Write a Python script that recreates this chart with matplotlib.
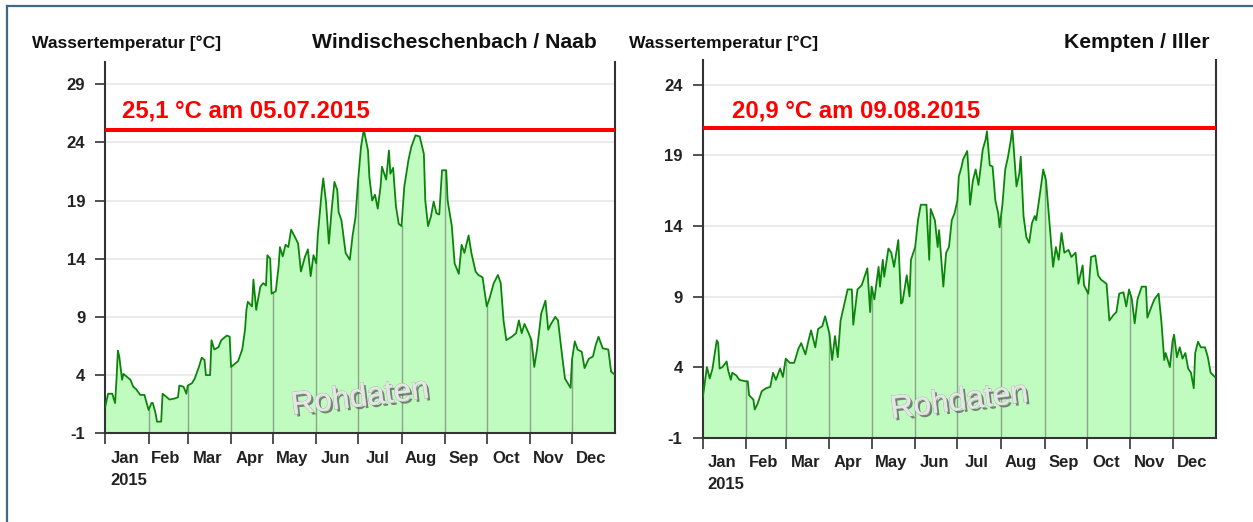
import matplotlib
matplotlib.use('Agg')
import matplotlib.pyplot as plt
import matplotlib.patheffects as pe
from matplotlib.lines import Line2D
import numpy as np

plt.rcParams['font.family'] = ['Liberation Sans', 'DejaVu Sans']

# data (day of year 2015, 0 = 1 Jan; water temperature in deg C)
naab_days = [0, 2, 5, 7, 8, 9, 10, 12, 13, 15, 18, 20, 22, 25, 28, 31, 33, 34, 36, 37,
             40, 41, 44, 46, 50, 52, 53, 56, 58, 59, 62, 64, 67, 69, 71, 72, 75, 76, 78, 81,
             83, 87, 89, 90, 93, 95, 98, 100, 101, 102, 105, 106, 108, 109, 111, 113, 115, 116, 118, 119,
             122, 124, 125, 127, 129, 131, 133, 136, 138, 140, 143, 145, 147, 149, 151, 152, 155, 156, 158, 160,
             162, 164, 166, 167, 169, 172, 175, 177, 179, 181, 183, 185, 188, 189, 191, 193, 195, 197, 198, 201,
             203, 204, 206, 208, 210, 212, 214, 217, 219, 222, 225, 228, 229, 231, 233, 235, 237, 239, 241, 244,
             245, 248, 250, 251, 253, 255, 257, 260, 262, 265, 267, 270, 273, 275, 278, 281, 283, 285, 287, 291,
             294, 296, 298, 300, 303, 305, 307, 309, 312, 315, 317, 319, 322, 324, 327, 329, 333, 334, 336, 338,
             341, 343, 346, 349, 351, 353, 356, 360, 362, 364]
naab_temp = [1.3, 2.4, 2.4, 1.6, 3.6, 6.1, 5.6, 3.6, 4.1, 3.9, 3.6, 3.0, 2.8, 2.3, 2.3, 1.0, 1.6, 1.6, 0.7, 0.0,
             0.0, 2.4, 2.1, 1.9, 2.0, 2.1, 3.1, 3.0, 2.4, 3.1, 3.3, 3.7, 4.7, 5.5, 5.3, 4.0, 4.0, 7.0, 6.2, 6.4,
             7.0, 7.4, 7.3, 4.7, 5.0, 5.2, 6.2, 7.9, 9.6, 10.3, 9.9, 12.2, 9.6, 10.3, 11.6, 11.9, 11.7, 14.3, 14.0, 11.0,
             11.2, 13.3, 15.0, 14.2, 15.2, 15.0, 16.5, 15.8, 15.3, 12.9, 14.2, 14.8, 12.5, 14.3, 13.6, 15.9, 19.9, 20.9, 18.8, 15.3,
             18.2, 20.6, 19.9, 18.0, 17.3, 14.5, 13.9, 16.0, 17.5, 20.8, 23.6, 25.1, 23.3, 21.0, 19.0, 19.5, 18.3, 20.2, 21.9, 20.8,
             23.3, 21.3, 21.8, 18.5, 17.0, 16.8, 20.2, 22.5, 23.6, 24.6, 24.5, 23.0, 19.0, 16.8, 17.6, 18.9, 17.9, 17.8, 21.6, 21.6,
             19.0, 16.8, 13.6, 13.3, 12.7, 15.2, 14.5, 16.0, 14.5, 12.9, 12.6, 12.4, 9.9, 10.6, 11.9, 12.6, 11.9, 8.7, 7.0, 7.3,
             7.6, 8.7, 7.6, 8.4, 7.6, 7.0, 4.7, 6.2, 9.3, 10.4, 7.9, 8.4, 9.0, 8.7, 5.6, 3.7, 2.9, 5.3, 6.9, 6.2,
             6.0, 4.6, 5.4, 5.6, 6.6, 7.3, 6.3, 6.2, 4.3, 4.1]

iller_days = [0, 2, 3, 5, 7, 8, 10, 11, 12, 14, 17, 18, 20, 21, 24, 26, 30, 32, 33, 36,
              37, 39, 42, 45, 48, 50, 52, 55, 57, 59, 62, 65, 68, 70, 73, 75, 77, 80, 82, 85,
              87, 90, 92, 94, 96, 98, 101, 103, 106, 107, 110, 113, 115, 117, 119, 120, 122, 125, 126, 128,
              129, 132, 134, 136, 139, 141, 142, 145, 147, 148, 151, 153, 155, 159, 161, 162, 165, 167, 168, 171,
              173, 175, 177, 179, 181, 182, 184, 185, 188, 189, 190, 192, 194, 196, 197, 199, 201, 202, 204, 206,
              208, 210, 211, 213, 215, 217, 219, 220, 223, 225, 226, 228, 230, 232, 234, 236, 237, 240, 242, 244,
              247, 249, 251, 253, 255, 257, 260, 262, 265, 267, 270, 271, 274, 276, 279, 281, 283, 287, 289, 292,
              294, 296, 299, 301, 303, 305, 307, 309, 312, 315, 316, 319, 321, 324, 326, 328, 329, 332, 334, 335,
              337, 339, 341, 343, 345, 347, 349, 350, 352, 354, 357, 359, 361, 364]
iller_temp = [1.8, 3.3, 4.0, 3.2, 3.9, 4.6, 5.9, 5.7, 3.9, 4.0, 4.4, 3.8, 3.1, 3.6, 3.4, 3.1, 3.0, 3.0, 2.0, 1.7,
              1.0, 1.4, 2.3, 2.5, 2.6, 3.6, 3.1, 3.9, 3.3, 4.6, 4.3, 4.3, 5.3, 5.7, 4.9, 5.8, 6.6, 5.4, 6.7, 6.9,
              7.6, 6.4, 4.5, 6.2, 4.7, 7.3, 8.6, 9.5, 9.5, 7.0, 9.5, 9.8, 10.4, 11.0, 7.9, 9.7, 8.8, 11.1, 9.7, 11.6,
              10.4, 12.4, 12.1, 11.1, 13.0, 8.5, 8.6, 10.5, 9.0, 11.6, 12.5, 14.4, 15.5, 15.5, 11.6, 15.2, 14.4, 12.5, 13.7, 9.7,
              12.1, 12.5, 14.4, 14.9, 15.8, 17.5, 18.2, 18.7, 19.3, 17.7, 15.5, 17.2, 18.0, 16.9, 17.7, 19.4, 20.1, 20.7, 18.3, 18.2,
              15.8, 14.9, 13.9, 15.5, 18.0, 18.9, 20.1, 20.9, 16.8, 17.7, 18.9, 14.7, 13.2, 12.8, 14.2, 14.7, 14.4, 16.5, 18.0, 17.2,
              13.5, 11.1, 12.5, 11.6, 13.5, 12.1, 12.3, 11.8, 12.1, 9.9, 11.2, 9.8, 9.2, 11.8, 11.9, 10.5, 10.2, 9.9, 7.3, 7.7,
              7.9, 9.2, 9.3, 8.3, 9.5, 8.8, 7.1, 8.8, 9.7, 9.7, 7.5, 8.3, 8.8, 9.2, 7.2, 4.5, 5.0, 4.0, 5.9, 6.3,
              4.7, 5.4, 4.6, 5.0, 3.9, 3.6, 2.5, 5.0, 5.8, 5.4, 5.4, 4.7, 3.6, 3.3]

month_starts = [0, 31, 59, 90, 120, 151, 181, 212, 243, 273, 304, 334]
month_names = ['Jan', 'Feb', 'Mar', 'Apr', 'May', 'Jun', 'Jul', 'Aug', 'Sep', 'Oct', 'Nov', 'Dec']

stations = ['Windischeschenbach / Naab', 'Kempten / Iller']
max_labels = ['25,1 °C am 05.07.2015', '20,9 °C am 09.08.2015']
max_values = [25.1, 20.9]
y_ticks = [[-1, 4, 9, 14, 19, 24, 29], [-1, 4, 9, 14, 19, 24]]
y_tops = [30.9, 25.75]

W, H = 1253, 522
fig = plt.figure(figsize=(W / 100, H / 100), dpi=100)
fig.patch.set_facecolor('white')


def px_ax(left, right, bottom, top):
    # axes placed by pixel edges of the reference
    return fig.add_axes([left / W, 1 - bottom / H, (right - left) / W, (bottom - top) / H])


axes = [px_ax(105.3, 615.3, 433.3, 62), px_ax(702.7, 1216.3, 437.7, 60)]
series = [(naab_days, naab_temp), (iller_days, iller_temp)]
text_pos = [(0.033, 26.7), (0.0565, 22.15)]
title_x = [(32, 597), (629, 1209)]

fill_col = '#c0fcc0'
line_col = '#0a850a'
spine_col = '#333333'

for i, ax in enumerate(axes):
    days = np.array(series[i][0])
    temp = np.array(series[i][1])

    ax.set_xlim(0, 365)
    ax.set_ylim(-1, y_tops[i])

    for t in y_ticks[i]:
        ax.axhline(t, color='#e8e8e8', lw=1.2, zorder=0)

    ax.fill_between(days, -1, temp, color=fill_col, lw=0, zorder=1)
    ax.plot(days, temp, color=line_col, lw=1.3, zorder=3)

    # month separators only under the curve
    for m in month_starts[1:]:
        top = np.interp(m, days, temp)
        ax.plot([m, m], [-1, top], color='#7d8f7d', lw=1.0, alpha=0.8, zorder=2)

    ax.axhline(max_values[i], xmin=0.003, xmax=0.995, color='#ff0000', lw=2.9, zorder=4)
    ax.annotate(max_labels[i], xy=text_pos[i], xycoords=('axes fraction', 'data'),
                color='#ff0000', fontsize=17.2, fontweight='bold', va='center', ha='left', zorder=5)

    ax.text(0.5, 0.095, 'Rohdaten', transform=ax.transAxes, fontsize=23, color='#e6e6e6',
            ha='center', va='center', rotation=7, zorder=5,
            path_effects=[pe.withSimplePatchShadow(offset=(1.8, -1.8), shadow_rgbFace='#5a5a5a', alpha=0.75),
                          pe.withStroke(linewidth=0.8, foreground='#b0b0b0'), pe.Normal()])

    for s in ['left', 'bottom', 'right']:
        ax.spines[s].set_color(spine_col)
        ax.spines[s].set_linewidth(1.5)
    ax.spines['top'].set_visible(False)

    ax.set_yticks(y_ticks[i])
    ax.set_yticklabels([str(t) for t in y_ticks[i]])
    ax.tick_params(axis='y', direction='out', length=7.5, width=1.2, color=spine_col,
                   labelsize=12, pad=7)
    ax.set_xticks(month_starts)
    ax.set_xticklabels([])
    ax.tick_params(axis='x', which='major', direction='out', length=8, width=1.2, color=spine_col)
    mids = [(a + b) / 2 - 1.5 for a, b in zip(month_starts, month_starts[1:] + [365])]
    ax.set_xticks(mids, minor=True)
    ax.set_xticklabels(month_names, minor=True)
    ax.tick_params(axis='x', which='minor', length=0, labelsize=12, pad=12.5)
    for lab in ax.get_xticklabels(minor=True) + ax.get_yticklabels():
        lab.set_fontweight('bold')
        lab.set_color('#222222')

    ax.annotate('2015', xy=(0, 0), xycoords='axes fraction', xytext=(3.4, -33.8),
                textcoords='offset points', fontsize=12, fontweight='bold', color='#222222',
                ha='left', va='center')

    fig.text(title_x[i][0] / W, 1 - 43 / H, 'Wassertemperatur [°C]', fontsize=12.6,
             fontweight='bold', color='#111111', ha='left', va='center')
    fig.text(title_x[i][1] / W, 1 - 43 / H, stations[i], fontsize=15.2,
             fontweight='bold', color='#111111', ha='right', va='center')

# frame of the page box (top and left edge)
frame_col = '#41697f'
fig.add_artist(Line2D([6.5 / W, 6.5 / W], [0, 1 - 6 / H], color=frame_col, lw=1.6))
fig.add_artist(Line2D([6.5 / W, 1], [1 - 6 / H, 1 - 6 / H], color=frame_col, lw=1.6))

fig.savefig('out.png', dpi=100)
